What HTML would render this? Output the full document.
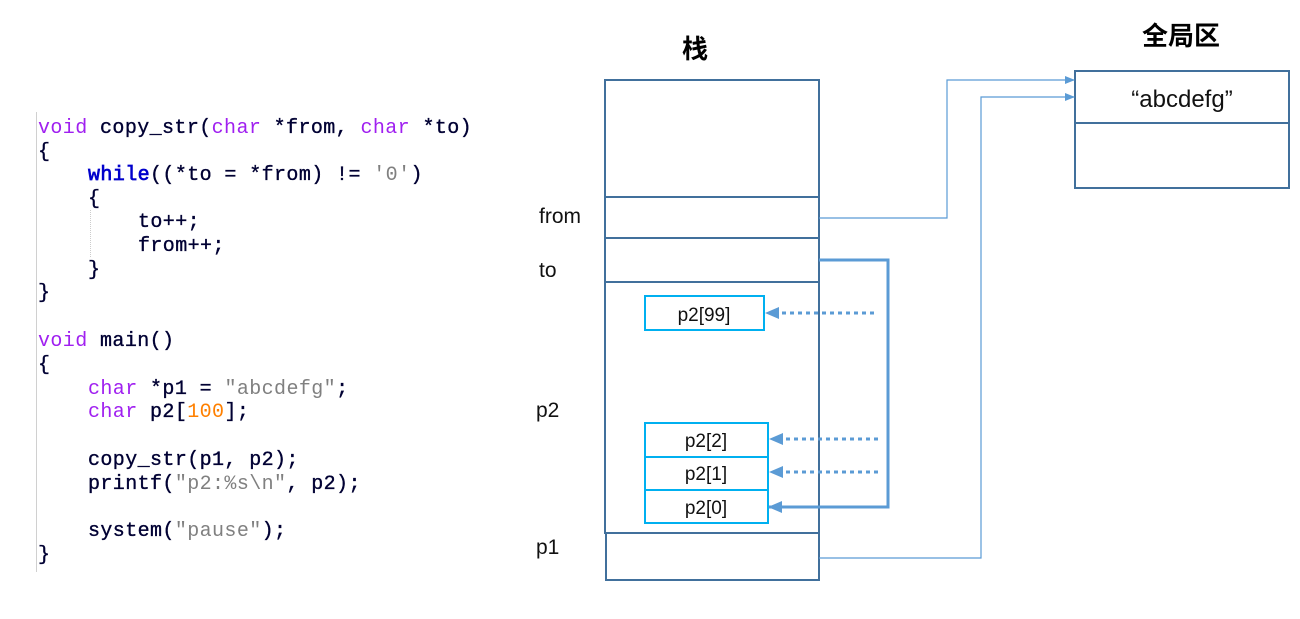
<!DOCTYPE html>
<html><head><meta charset="utf-8"><style>
body{margin:0;background:#fff;}
svg{display:block}
.c{font-family:"Liberation Mono",monospace;font-size:20px;letter-spacing:0.4px;fill:#000033;font-weight:normal;stroke:#000033;stroke-width:0.35}
.k{fill:#a020f0;stroke:#a020f0;stroke-width:0}
.b{fill:#0000cc;stroke:#0000cc;stroke-width:0.7}
.s{fill:#808080;stroke:none}
.n{fill:#ff8000;stroke:none}
.t{font-family:"Liberation Sans","Noto Sans CJK SC",sans-serif;font-size:21px;fill:#111}
.h{font-family:"Liberation Sans","Noto Sans CJK SC",sans-serif;font-size:26px;font-weight:bold;fill:#000}
</style></head><body>
<svg width="1300" height="619" viewBox="0 0 1300 619" xmlns="http://www.w3.org/2000/svg">
<defs>
<marker id="a" markerWidth="10" markerHeight="8" refX="9" refY="4" orient="auto" markerUnits="userSpaceOnUse"><path d="M0,0 L10,4 L0,8z" fill="#5b9bd5"/></marker>
<marker id="a2" markerWidth="14" markerHeight="12" refX="13" refY="6" orient="auto" markerUnits="userSpaceOnUse"><path d="M0,0 L14,6 L0,12z" fill="#5b9bd5"/></marker>
</defs>
<line x1="36.5" y1="112" x2="36.5" y2="572" stroke="#d0d0d0" stroke-width="1"/>
<line x1="90.5" y1="210" x2="90.5" y2="258" stroke="#ccc" stroke-dasharray="1,1"/>
<g class="c">
<text x="38" y="133"><tspan class="k">void</tspan> copy_str(<tspan class="k">char</tspan> *from, <tspan class="k">char</tspan> *to)</text>
<text x="38" y="157">{</text>
<text x="88" y="180"><tspan class="b">while</tspan>((*to = *from) != <tspan class="s">'0'</tspan>)</text>
<text x="88" y="204">{</text>
<text x="138" y="227">to++;</text>
<text x="138" y="251">from++;</text>
<text x="88" y="275">}</text>
<text x="38" y="298">}</text>
<text x="38" y="346"><tspan class="k">void</tspan> main()</text>
<text x="38" y="370">{</text>
<text x="88" y="394"><tspan class="k">char</tspan> *p1 = <tspan class="s">"abcdefg"</tspan>;</text>
<text x="88" y="417"><tspan class="k">char</tspan> p2[<tspan class="n">100</tspan>];</text>
<text x="88" y="465">copy_str(p1, p2);</text>
<text x="88" y="489">printf(<tspan class="s">"p2:%s\n"</tspan>, p2);</text>
<text x="88" y="536">system(<tspan class="s">"pause"</tspan>);</text>
<text x="38" y="560">}</text>
</g>
<text class="h" x="695" y="58" text-anchor="middle">栈</text>
<text class="h" x="1181" y="45" text-anchor="middle">全局区</text>
<g fill="none" stroke="#41709c" stroke-width="2">
<rect x="605" y="80" width="214" height="453"/>
<line x1="605" y1="197" x2="819" y2="197"/>
<line x1="605" y1="238" x2="819" y2="238"/>
<line x1="605" y1="282" x2="819" y2="282"/>
<rect x="606" y="533" width="213" height="47"/>
<rect x="1075" y="71" width="214" height="117"/>
<line x1="1075" y1="123" x2="1289" y2="123"/>
</g>
<g fill="none" stroke="#00b0f0" stroke-width="2">
<rect x="645" y="296" width="119" height="34"/>
<rect x="645" y="423" width="123" height="100"/>
<line x1="645" y1="457" x2="768" y2="457"/>
<line x1="645" y1="490" x2="768" y2="490"/>
</g>
<g class="t">
<text x="539" y="223">from</text>
<text x="539" y="277">to</text>
<text x="536" y="417">p2</text>
<text x="536" y="554">p1</text>
<text x="704" y="321" text-anchor="middle" font-size="19">p2[99]</text>
<text x="706" y="447" text-anchor="middle" font-size="19">p2[2]</text>
<text x="706" y="480" text-anchor="middle" font-size="19">p2[1]</text>
<text x="706" y="514" text-anchor="middle" font-size="19">p2[0]</text>
<text x="1182" y="107" text-anchor="middle" font-size="24">“abcdefg”</text>
</g>
<g fill="none" stroke="#5b9bd5">
<polyline points="819,218 947,218 947,80 1074,80" stroke-width="1.2" marker-end="url(#a)"/>
<polyline points="819,558 981,558 981,97 1074,97" stroke-width="1.2" marker-end="url(#a)"/>
<polyline points="819,260 888,260 888,507 769,507" stroke-width="3" marker-end="url(#a2)"/>
<g stroke-width="3" stroke-dasharray="4,4">
<line x1="874" y1="313" x2="778" y2="313"/>
<line x1="878" y1="439" x2="782" y2="439"/>
<line x1="878" y1="472" x2="782" y2="472"/>
</g>
</g>
<g fill="#5b9bd5">
<path d="M765,313 L779,307 L779,319z"/>
<path d="M769,439 L783,433 L783,445z"/>
<path d="M769,472 L783,466 L783,478z"/>
</g>
</svg>
</body></html>
